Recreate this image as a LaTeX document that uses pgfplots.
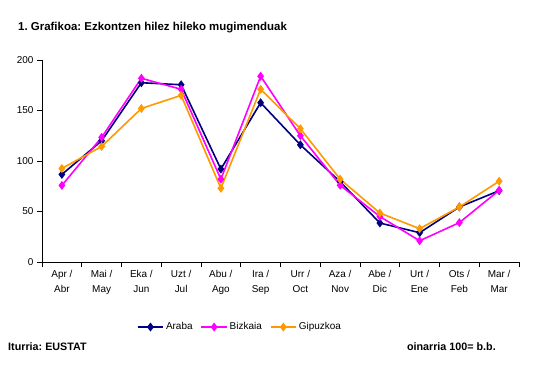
\documentclass[border=0pt]{standalone}
\usepackage{pgfplots}
\pgfplotsset{compat=1.18}
\usepackage{fontspec}
\setmainfont{Liberation Sans}
\frenchspacing
\definecolor{araba}{HTML}{000080}
\definecolor{bizkaia}{HTML}{FF00FF}
\definecolor{gipuzkoa}{HTML}{FF9900}
\begin{document}
\frenchspacing
\begin{tikzpicture}[x=1bp,y=1bp]
\path[use as bounding box] (0,0) rectangle (536,365);
\node[anchor=base west,inner sep=0pt,font=\fontsize{11.5}{13}\selectfont\bfseries] at (18,335) {1. Grafikoa: Ezkontzen hilez hileko mugimenduak};
\node[anchor=base west,inner sep=0pt,font=\fontsize{10.8}{12}\selectfont\bfseries] at (8,15) {Iturria: EUSTAT};
\node[anchor=base east,inner sep=0pt,font=\fontsize{10.8}{12}\selectfont\bfseries] at (496,15) {oinarria 100= b.b.};
\begin{axis}[
  at={(42bp,103bp)}, anchor=south west, scale only axis,
  width=477bp, height=202bp,
  xmin=-0.5, xmax=11.5, ymin=0, ymax=200,
  axis x line*=bottom, axis y line*=left,
  axis line style={-, line width=0.8bp},
  ytick={0,50,...,200},
  xtick={0,...,11},
  xticklabels={{Apr /\\Abr},{Mai /\\May},{Eka /\\Jun},{Uzt /\\Jul},{Abu /\\Ago},{Ira /\\Sep},{Urr /\\Oct},{Aza /\\Nov},{Abe /\\Dic},{Urt /\\Ene},{Ots /\\Feb},{Mar /\\Mar}},
  minor xtick={-0.5,0.5,...,11.5},
  every major x tick/.append style={draw=none},
  tick align=outside,
  major tick length=5bp, minor tick length=5bp,
  tick style={black, line width=0.8bp},
  x tick label style={align=center, font=\fontsize{10}{15}\selectfont},
  y tick label style={font=\fontsize{10}{12}\selectfont},
  /pgf/number format/assume math mode=true,
  legend columns=3,
  legend style={draw=none, at={(0.415,-0.322)}, anchor=center, font=\fontsize{10}{12}\selectfont, /tikz/every even column/.append style={column sep=6bp}},
  legend image code/.code={\draw[mark repeat=2,mark phase=2] plot coordinates {(0cm,0cm) (0.45cm,0cm) (0.9cm,0cm)};},
  every axis plot/.append style={line width=1.6bp, mark=diamond*, mark size=3.2bp, mark options={solid}},
]
\addplot[color=araba] coordinates {(0,86.7) (1,120) (2,177.5) (3,175.5) (4,92) (5,157.7) (6,116) (7,79.5) (8,38.6) (9,29) (10,54.5) (11,70.6)};
\addlegendentry{Araba}
\addplot[color=bizkaia] coordinates {(0,75.8) (1,123.4) (2,181.9) (3,171) (4,82) (5,183.9) (6,125) (7,76) (8,45) (9,21) (10,39) (11,71)};
\addlegendentry{Bizkaia}
\addplot[color=gipuzkoa] coordinates {(0,92.6) (1,114.4) (2,152) (3,165) (4,73) (5,171) (6,132) (7,82) (8,48.5) (9,33) (10,54.5) (11,80)};
\addlegendentry{Gipuzkoa}
\end{axis}
\end{tikzpicture}
\end{document}
